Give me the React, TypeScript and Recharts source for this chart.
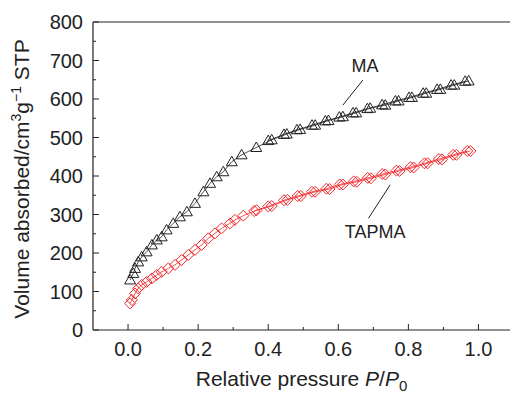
import {
  ComposedChart,
  Scatter,
  XAxis,
  YAxis,
  Label,
  ReferenceLine,
  ReferenceDot,
} from 'recharts';

// tick positions (minor + major)
const xTicks = [0, 0.1, 0.2, 0.3, 0.4, 0.5, 0.6, 0.7, 0.8, 0.9, 1.0];
const yTicks = [0, 50, 100, 150, 200, 250, 300, 350, 400, 450, 500, 550, 600, 650, 700, 750, 800];

// [P/P0, volume]
const maAdsorption: [number, number][] = [
  [0.006, 130], [0.015, 147], [0.02, 160], [0.029, 177], [0.039, 190],
  [0.053, 203], [0.068, 221], [0.082, 234], [0.096, 242], [0.11, 260],
  [0.129, 277], [0.148, 294], [0.168, 307], [0.191, 329], [0.215, 359],
  [0.234, 381], [0.253, 398], [0.272, 411], [0.296, 437], [0.324, 455],
  [0.366, 474], [0.41, 494], [0.453, 509], [0.491, 521],
  [0.534, 532], [0.572, 544], [0.613, 554], [0.651, 564], [0.691, 576],
  [0.734, 584], [0.772, 595], [0.81, 604], [0.851, 615], [0.891, 625],
  [0.931, 636], [0.972, 647],
];

const maDesorption: [number, number][] = [
  [0.962, 646], [0.922, 636], [0.882, 625], [0.842, 615], [0.802, 604],
  [0.763, 595], [0.725, 585], [0.683, 575], [0.642, 564], [0.603, 553],
  [0.563, 543], [0.525, 532], [0.482, 520], [0.445, 508], [0.4, 492],
];

const tapmaAdsorption: [number, number][] = [
  [0.006, 69], [0.011, 78], [0.02, 95], [0.029, 108], [0.039, 117],
  [0.053, 125], [0.068, 134], [0.082, 143], [0.096, 151], [0.115, 160],
  [0.134, 169], [0.153, 182], [0.172, 195], [0.191, 208], [0.21, 221],
  [0.229, 238], [0.248, 251], [0.267, 264], [0.291, 277], [0.305, 286],
  [0.329, 297], [0.367, 311], [0.41, 322], [0.455, 338], [0.493, 348],
  [0.534, 359], [0.575, 366], [0.613, 378], [0.653, 385], [0.693, 394],
  [0.734, 404], [0.775, 413], [0.815, 422], [0.855, 433], [0.896, 443],
  [0.937, 455], [0.977, 465],
];

const tapmaDesorption: [number, number][] = [
  [0.968, 465], [0.928, 455], [0.887, 444], [0.846, 433], [0.806, 423],
  [0.766, 414], [0.725, 405], [0.684, 395], [0.644, 386], [0.604, 378],
  [0.566, 367], [0.525, 359], [0.484, 348], [0.445, 337], [0.4, 321],
  [0.36, 309],
];

const toPoints = (rows: [number, number][]) => rows.map(([p, v]) => ({ p, v }));

const INK = '#222';
const RED = '#f2262b';
const FONT = '"Liberation Sans", Arial, sans-serif';
const X_MARGIN = 12;
const Y_MARGIN = 10;

const Triangle = (props: any) => {
  const { cx, cy } = props;
  if (cx == null || cy == null) return null;
  return (
    <polygon
      points={`${cx - 5.5},${cy + 4} ${cx + 5.5},${cy + 4} ${cx},${cy - 5.5}`}
      fill='#fff'
      fillOpacity={0}
      stroke={INK}
      strokeWidth={1}
    />
  );
};

const Diamond = (props: any) => {
  const { cx, cy } = props;
  if (cx == null || cy == null) return null;
  return (
    <polygon
      points={`${cx},${cy - 5.5} ${cx + 5.5},${cy} ${cx},${cy + 5.5} ${cx - 5.5},${cy}`}
      fill='#fff'
      fillOpacity={0}
      stroke={RED}
      strokeWidth={1}
    />
  );
};

const XTick = (props: any) => {
  const { x, y, payload } = props;
  const major = Math.round(payload.value * 10) % 2 === 0;
  const axisY = y - X_MARGIN;
  return (
    <g>
      <line x1={x} x2={x} y1={axisY} y2={axisY - (major ? 6 : 3)} stroke={INK} />
      {major && (
        <text x={x} y={y} dy='0.71em' textAnchor='middle' fontSize={20} fill={INK} fontFamily={FONT}>
          {payload.value.toFixed(1)}
        </text>
      )}
    </g>
  );
};

const YTick = (props: any) => {
  const { x, y, payload } = props;
  const major = payload.value % 100 === 0;
  const axisX = x + Y_MARGIN;
  return (
    <g>
      <line x1={axisX} x2={axisX + (major ? 6 : 3)} y1={y} y2={y} stroke={INK} />
      {major && (
        <text x={x} y={y} dy='0.355em' textAnchor='end' fontSize={20} fill={INK} fontFamily={FONT}>
          {payload.value}
        </text>
      )}
    </g>
  );
};

const XTitle = (props: any) => {
  const { x, y, width } = props.viewBox;
  return (
    <text x={x + width / 2} y={y + 56} textAnchor='middle' fontSize={21} fill={INK} fontFamily={FONT}>
      Relative pressure <tspan fontStyle='italic'>P</tspan>/<tspan fontStyle='italic'>P</tspan>
      <tspan dy={5} fontSize={15}>0</tspan>
    </text>
  );
};

const YTitle = (props: any) => {
  const { y, height } = props.viewBox;
  const cx = 29;
  const cy = y + height / 2 + 3;
  return (
    <text
      x={cx}
      y={cy}
      transform={`rotate(-90, ${cx}, ${cy})`}
      textAnchor='middle'
      fontSize={21}
      fill={INK}
      fontFamily={FONT}
    >
      Volume absorbed/cm
      <tspan dy={-8} fontSize={14}>3</tspan>
      <tspan dy={8}>g</tspan>
      <tspan dy={-8} fontSize={14}>−1</tspan>
      <tspan dy={8}> STP</tspan>
    </text>
  );
};

const IsothermChart = () => {
  return (
    <div style={{ position: 'absolute', left: 0, top: 0, fontFamily: FONT }}>
      <ComposedChart width={510} height={393} margin={{ top: 22, right: 0, bottom: 0, left: 0 }}>
        <XAxis
          type='number'
          dataKey='p'
          domain={[-0.1, 1.09]}
          ticks={xTicks}
          interval={0}
          height={63}
          tickSize={0}
          tickMargin={X_MARGIN}
          tick={<XTick />}
          axisLine={{ stroke: INK, strokeWidth: 1.2 }}
          allowDataOverflow
        >
          <Label content={<XTitle />} />
        </XAxis>
        <YAxis
          type='number'
          dataKey='v'
          domain={[0, 800]}
          ticks={yTicks}
          interval={0}
          width={93}
          tickSize={0}
          tickMargin={Y_MARGIN}
          tick={<YTick />}
          axisLine={{ stroke: INK, strokeWidth: 1.2 }}
        >
          <Label content={<YTitle />} />
        </YAxis>
        <ReferenceLine y={800} stroke={INK} strokeWidth={1.2} />

        <Scatter data={toPoints(maDesorption)} line={{ stroke: INK, strokeWidth: 0.8 }} lineType='joint' shape={<Triangle />} isAnimationActive={false} />
        <Scatter data={toPoints(maAdsorption)} line={{ stroke: INK, strokeWidth: 0.8 }} lineType='joint' shape={<Triangle />} isAnimationActive={false} />
        <Scatter data={toPoints(tapmaDesorption)} line={{ stroke: RED, strokeWidth: 0.8 }} lineType='joint' shape={<Diamond />} isAnimationActive={false} />
        <Scatter data={toPoints(tapmaAdsorption)} line={{ stroke: RED, strokeWidth: 0.8 }} lineType='joint' shape={<Diamond />} isAnimationActive={false} />

        {/* callouts */}
        <ReferenceLine segment={[{ x: 0.67, y: 649 }, { x: 0.613, y: 584 }]} stroke={INK} strokeWidth={1} />
        <ReferenceDot x={0.676} y={686} r={0} stroke='none' label={{ value: 'MA', position: 'center', fontSize: 18, fill: INK, fontFamily: FONT }} />
        <ReferenceLine segment={[{ x: 0.748, y: 377 }, { x: 0.686, y: 290 }]} stroke={INK} strokeWidth={1} />
        <ReferenceDot x={0.705} y={255} r={0} stroke='none' label={{ value: 'TAPMA', position: 'center', fontSize: 18, fill: INK, fontFamily: FONT }} />
      </ComposedChart>
    </div>
  );
};

export default function App() {
  return <IsothermChart />;
}
